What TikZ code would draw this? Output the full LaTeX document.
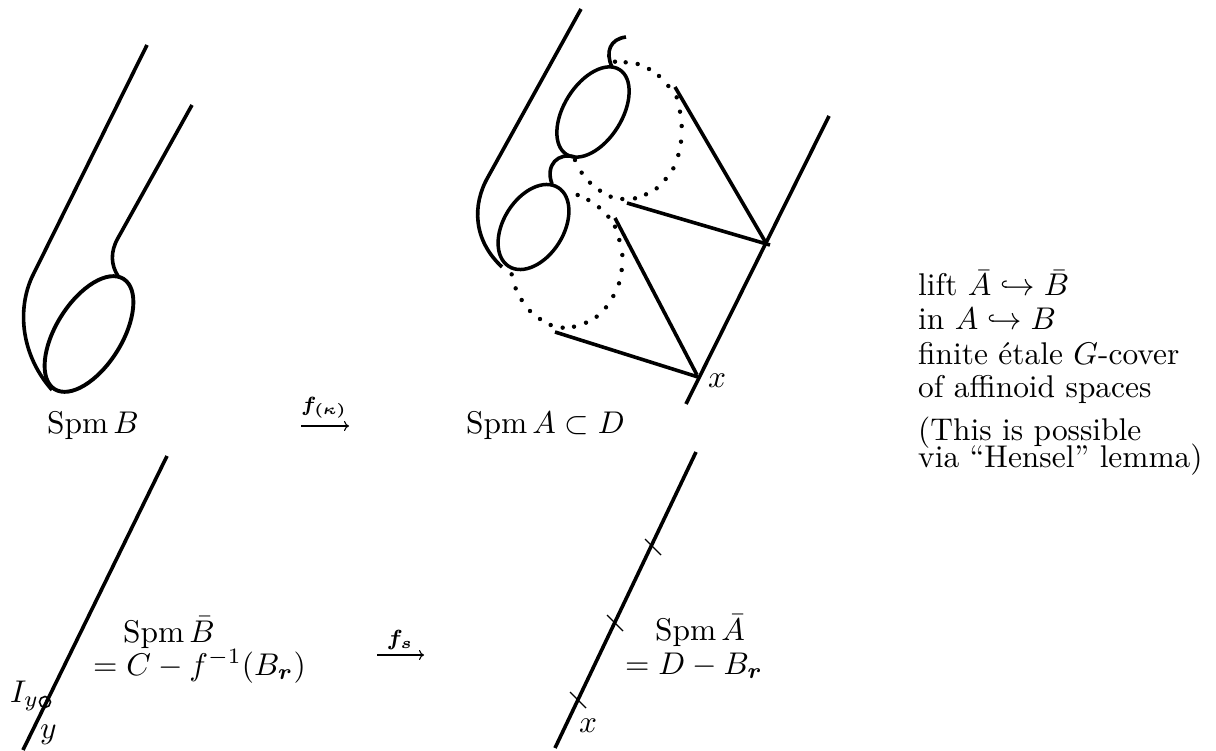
\documentclass[tikz,border=0pt]{standalone}
\usepackage{amsmath,amssymb,graphicx}
\usetikzlibrary{arrows.meta}
\tikzset{
  x=1pt,y=-1pt,
  curve/.style={line width=3.6pt,black,line cap=butt},
  oval/.style={line width=3.5pt,black},
  dotmark/.style={fill=black,draw=none},
  lbl/.style={inner sep=0pt,anchor=base west},
  cross/.style={line width=1.4pt,black},
  maparrow/.style={line width=1.1pt,-{To[length=5pt,width=10pt]}},
}
\newcommand{\T}[1]{\scalebox{3.14}{#1}}
\newcommand{\B}[1]{\bar{#1}}
\begin{document}
\begin{tikzpicture}
\useasboundingbox (0,0) rectangle (1216,751);
% top left
\draw[curve] (147,45) -- (32,277) .. controls (17,310) and (21,355) .. (52,390);
\draw[curve] (192,105) -- (118,238) .. controls (110,252) and (111,265) .. (118,276);
\draw[oval,line width=3.9pt,rotate around={58:(89,334)}] (89,334) ellipse [x radius=65, y radius=33];
% top right
\draw[curve] (581,9) -- (488,177) .. controls (472,205) and (473,240) .. (502,267);
\draw[curve] (626,37) .. controls (610,39) and (605,52) .. (612,67);
\draw[curve] (575,157) .. controls (558,152) and (545,165) .. (552,184);
\draw[oval,rotate around={58:(593,112)}] (593,112) ellipse [x radius=50, y radius=29];
\draw[oval,rotate around={58:(533.5,227)}] (533.5,227) ellipse [x radius=46.5, y radius=30];
\foreach \x/\y in {465/185,497/187,533/192,567/207,597/228,625/258,650/292,660/335,665/378,663/425,655/465,640/505,617/537,590/565,558/583,525/595,487/597,452/590,420/572,390/548,365/518,345/480,
155/823,167/865,185/900,210/933,240/957,272/975,308/983,342/980,378/968,410/950,438/922,460/888,477/850,485/810,487/765,478/720,465/680,445/650,417/622,385/600,353/585}
  \fill[dotmark] ({460+\x/3},{\y/3}) circle (2.2);
\draw[curve] (675,87) -- (766,243);
\draw[curve] (627,203) -- (770,245);
\draw[curve] (615,218) -- (697,375);
\draw[curve] (555,332) -- (698,377);
\draw[curve] (829,116) -- (686,404);
% bottom left
\draw[curve] (167,456) -- (23,750);
\draw[line width=1.6pt] (45,702) circle (5.5);
% bottom right
\draw[curve] (696,452) -- (555,748);
\foreach \p in {(653,547),(615,623),(578,700)}
  \draw[cross] \p ++(-8,-8) -- ++(16,16);
% labels
\node[lbl] (spmb) at (47,433) {\T{$\mathrm{Spm}\,B$}};
\node[lbl] (spma) at (466,433) {\T{$\mathrm{Spm}\,A\subset D$}};
\node[lbl] (x1) at (708,388) {\T{$x$}};
\node[lbl] (spmbb) at (123,642) {\T{$\mathrm{Spm}\,\B{B}$}};
\node[lbl] (eq1) at (93,675) {\T{$=C-f^{-1}(B_{\boldsymbol r})$}};
\node[lbl] (iy) at (10,702) {\T{$I_{y}$}};
\node[lbl] (y) at (40,738) {\T{$y$}};
\node[lbl] (spmab) at (655,640) {\T{$\mathrm{Spm}\,\B{A}$}};
\node[lbl] (eq2) at (625,674) {\T{$=D-B_{\boldsymbol r}$}};
\node[lbl] (x2) at (579,732) {\T{$x$}};
\node[lbl] (r1) at (918,296) {\T{lift $\B{A}\hookrightarrow\B{B}$}};
\node[lbl] (r2) at (918,330) {\T{in $A\hookrightarrow B$}};
\node[lbl] (r3) at (918,364) {\T{finite étale $G$-cover}};
\node[lbl] (r4) at (918,397) {\T{of affinoid spaces}};
\node[lbl] (r5) at (918,440) {\T{(This is possible}};
\node[lbl] (r6) at (918,467) {\T{via ``Hensel'' lemma)}};
% arrows
\node[inner sep=0pt,anchor=base] (fk) at (324,411) {\scalebox{2.95}{$\scriptstyle\boldsymbol{f_{(\kappa)}}$}};
\coordinate (a1) at (301,426); \coordinate (a2) at (349,426);
\draw[maparrow] (a1) -- (a2);
\node[inner sep=0pt,anchor=base] (fs) at (400,645) {\scalebox{3.14}{$\scriptstyle\boldsymbol{f_s}$}};
\coordinate (b1) at (377,655); \coordinate (b2) at (424,655);
\draw[maparrow] (b1) -- (b2);
\end{tikzpicture}
\end{document}
